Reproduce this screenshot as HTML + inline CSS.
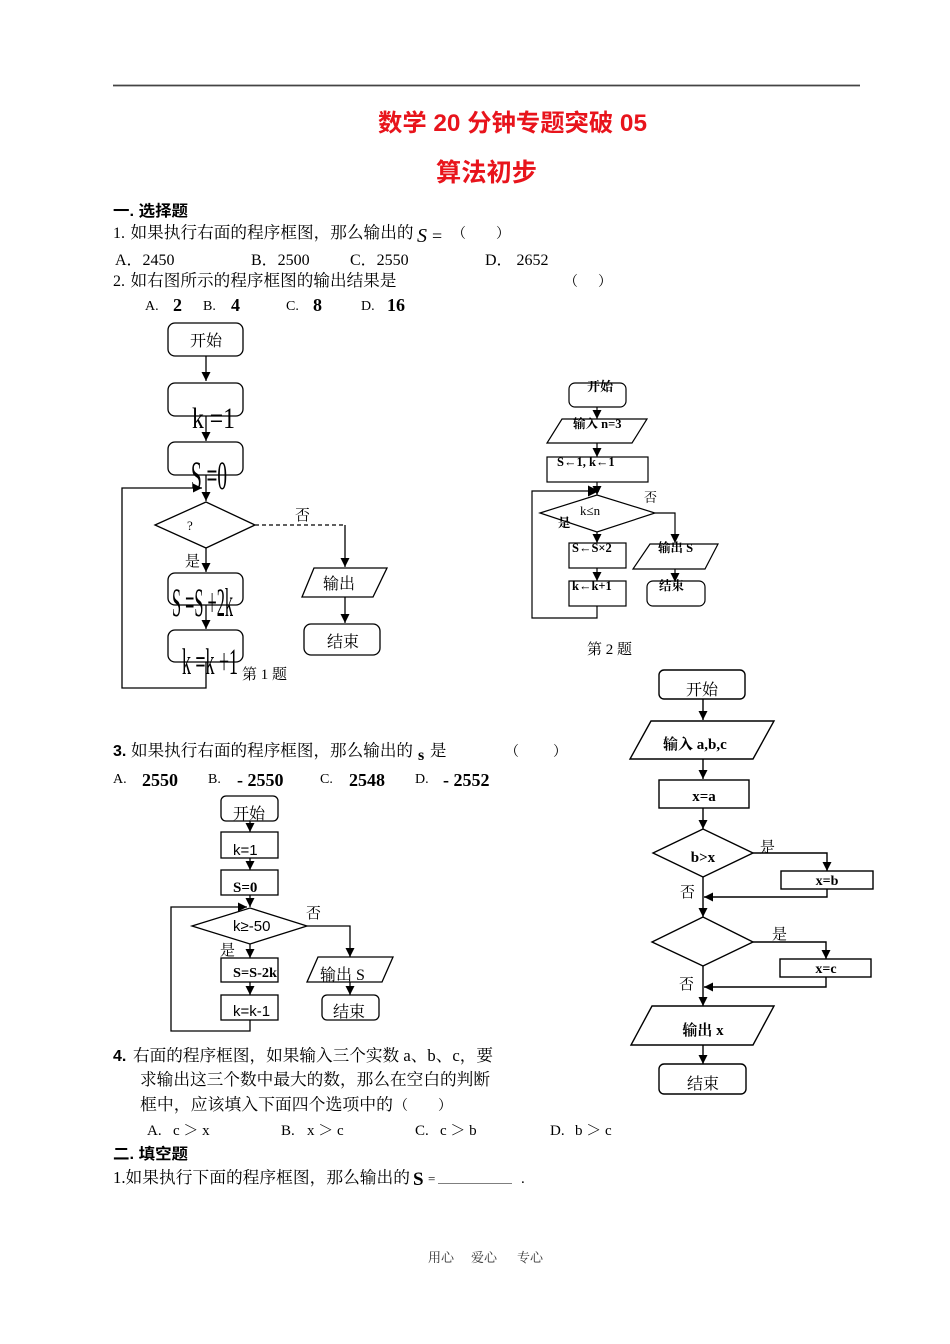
<!DOCTYPE html>
<html><head><meta charset="utf-8">
<style>
html,body{margin:0;padding:0;background:#fff;}
svg{display:block;}
.s{font-family:"Liberation Serif","Noto Serif CJK SC",serif;fill:#000;}
.h{font-family:"Liberation Sans","Noto Sans CJK SC",sans-serif;fill:#000;}
.b{font-weight:bold;}
</style></head>
<body>
<svg width="950" height="1344" viewBox="0 0 950 1344" xmlns="http://www.w3.org/2000/svg">
<defs>
<marker id="a" viewBox="0 0 10 10" refX="10" refY="5" markerWidth="9" markerHeight="9" markerUnits="userSpaceOnUse" orient="auto"><path d="M0,0 L10,5 L0,10 z" fill="#000"/></marker>
<marker id="a2" viewBox="0 0 10 10" refX="10" refY="5" markerWidth="11" markerHeight="11" markerUnits="userSpaceOnUse" orient="auto"><path d="M0,0 L10,5 L0,10 z" fill="#000"/></marker>
</defs>
<rect width="950" height="1344" fill="#fff"/>
<line x1="113" y1="85.5" x2="860" y2="85.5" stroke="#444" stroke-width="1.8"/>

<!-- Title -->
<text x="378" y="131" class="h b" font-size="24" fill="#e8141c" style="fill:#e8141c" textLength="269" lengthAdjust="spacingAndGlyphs">数学 20 分钟专题突破 05</text>
<text x="436" y="181" class="h b" font-size="25" style="fill:#e8141c" textLength="101" lengthAdjust="spacingAndGlyphs">算法初步</text>

<!-- Section 1 -->
<text x="113" y="216" class="h b" font-size="15.5" textLength="75" lengthAdjust="spacingAndGlyphs">一. 选择题</text>
<text x="113" y="238" class="s" font-size="16">1.</text>
<text x="130.5" y="238" class="s" font-size="16.5" textLength="283" lengthAdjust="spacingAndGlyphs">如果执行右面的程序框图，那么输出的</text>
<text x="417" y="242" class="s" font-size="20" font-style="italic">S</text>
<text x="432" y="242" class="s" font-size="18">=</text>
<text x="452" y="238" class="s" font-size="14">（</text>
<text x="496" y="238" class="s" font-size="14">）</text>

<text x="115" y="265" class="s" font-size="16">A．2450</text>
<text x="251" y="265" class="s" font-size="16">B．2500</text>
<text x="350" y="265" class="s" font-size="16">C．2550</text>
<text x="485" y="265" class="s" font-size="16">D．  2652</text>

<text x="113" y="286" class="s" font-size="16">2.</text>
<text x="130.5" y="286" class="s" font-size="16.5" textLength="266" lengthAdjust="spacingAndGlyphs">如右图所示的程序框图的输出结果是</text>
<text x="564" y="286" class="s" font-size="14">（</text>
<text x="598" y="286" class="s" font-size="14">）</text>

<text x="145" y="310" class="s" font-size="14">A.</text>
<text x="173" y="311" class="s b" font-size="18">2</text>
<text x="203" y="310" class="s" font-size="14">B.</text>
<text x="231" y="311" class="s b" font-size="18">4</text>
<text x="286" y="310" class="s" font-size="14">C.</text>
<text x="313" y="311" class="s b" font-size="18">8</text>
<text x="361" y="310" class="s" font-size="14">D.</text>
<text x="387" y="311" class="s b" font-size="18">16</text>

<!-- Flowchart 1 -->
<g fill="none" stroke="#000" stroke-width="1.3">
<rect x="168" y="323" width="75" height="33" rx="7"/>
<line x1="206" y1="356" x2="206" y2="381" marker-end="url(#a)"/>
<rect x="168" y="383" width="75" height="33" rx="7"/>
<line x1="206" y1="416" x2="206" y2="441" marker-end="url(#a)"/>
<rect x="168" y="442" width="75" height="33" rx="7"/>
<line x1="206" y1="475" x2="206" y2="501" marker-end="url(#a)"/>
<polyline points="206,662 206,688 122,688 122,488 202,488" marker-end="url(#a)"/>
<polygon points="155,525 206,502 255,525 206,548"/>
<line x1="255" y1="525" x2="345" y2="525" stroke-dasharray="4,3"/>
<line x1="345" y1="525" x2="345" y2="567" marker-end="url(#a)"/>
<line x1="206" y1="548" x2="206" y2="572" marker-end="url(#a)"/>
<rect x="168" y="573" width="75" height="32" rx="7"/>
<line x1="206" y1="605" x2="206" y2="629" marker-end="url(#a)"/>
<rect x="168" y="630" width="75" height="32" rx="7"/>
<polygon points="314,568 387,568 373,597 302,597"/>
<line x1="345" y1="597" x2="345" y2="623" marker-end="url(#a)"/>
<rect x="304" y="624" width="76" height="31" rx="7"/>
</g>
<text x="206" y="346" class="s" font-size="16" text-anchor="middle">开始</text>
<text x="192" y="428" class="s" font-size="30" textLength="43" lengthAdjust="spacingAndGlyphs">k =1</text>
<text x="191" y="489" class="s" font-size="40" textLength="36" lengthAdjust="spacingAndGlyphs">S =0</text>
<text x="187" y="530" class="s" font-size="13">?</text>
<text x="295" y="520" class="s" font-size="15">否</text>
<text x="185" y="566" class="s" font-size="15">是</text>
<text x="172" y="616" class="s" font-size="40" textLength="61" lengthAdjust="spacingAndGlyphs">S =S +2k</text>
<text x="182" y="674" class="s" font-size="37" textLength="56" lengthAdjust="spacingAndGlyphs">k =k +1</text>
<text x="339" y="589" class="s" font-size="16" text-anchor="middle">输出</text>
<text x="343" y="647" class="s" font-size="16" text-anchor="middle">结束</text>
<text x="242" y="679" class="s" font-size="15">第 1 题</text>

<!-- Flowchart 2 -->
<g fill="none" stroke="#000" stroke-width="1.2">
<rect x="569" y="383" width="57" height="24" rx="6"/>
<line x1="597" y1="407" x2="597" y2="419" marker-end="url(#a)"/>
<polygon points="562,419 647,419 632,443 547,443"/>
<line x1="597" y1="443" x2="597" y2="457" marker-end="url(#a)"/>
<rect x="547" y="457" width="101" height="25"/>
<line x1="597" y1="482" x2="597" y2="495" marker-end="url(#a)"/>
<polyline points="597,606 597,618 532,618 532,491 599,491" marker-end="url(#a2)"/>
<polygon points="540,513 597,495 655,513 597,532"/>
<polyline points="655,513 675,513 675,543" marker-end="url(#a)"/>
<line x1="597" y1="532" x2="597" y2="543" marker-end="url(#a)"/>
<rect x="569" y="543" width="57" height="25"/>
<line x1="597" y1="568" x2="597" y2="581" marker-end="url(#a)"/>
<rect x="569" y="581" width="57" height="25"/>
<polygon points="650,544 718,544 705,569 633,569"/>
<line x1="675" y1="569" x2="675" y2="582" marker-end="url(#a)"/>
<rect x="647" y="581" width="58" height="25" rx="6"/>
</g>
<text x="600" y="391" class="s b" font-size="13" text-anchor="middle">开始</text>
<text x="573" y="428" class="s b" font-size="12.5">输入 n=3</text>
<text x="557" y="466" class="s b" font-size="12.5">S←1, k←1</text>
<text x="580" y="515" class="s" font-size="13">k≤n</text>
<text x="558" y="527" class="s b" font-size="12.5">是</text>
<text x="644" y="502" class="s" font-size="13">否</text>
<text x="572" y="552" class="s b" font-size="12.5">S←S×2</text>
<text x="572" y="590" class="s b" font-size="12.5">k←k+1</text>
<text x="658" y="552" class="s b" font-size="12.5">输出 S</text>
<text x="659" y="590" class="s b" font-size="12.5">结束</text>
<text x="587" y="654" class="s" font-size="15">第 2 题</text>

<!-- Question 3 -->
<text x="113" y="756" class="h b" font-size="16">3.</text>
<text x="131" y="756" class="s" font-size="16.5" textLength="282" lengthAdjust="spacingAndGlyphs">如果执行右面的程序框图，那么输出的</text>
<text x="418" y="760" class="s b" font-size="16">s</text>
<text x="430" y="756" class="s" font-size="16.5">是</text>
<text x="505" y="756" class="s" font-size="14">（</text>
<text x="553" y="756" class="s" font-size="14">）</text>

<text x="113" y="783" class="s" font-size="14">A.</text>
<text x="142" y="786" class="s b" font-size="18">2550</text>
<text x="208" y="783" class="s" font-size="14">B.</text>
<text x="237" y="786" class="s b" font-size="18">- 2550</text>
<text x="320" y="783" class="s" font-size="14">C.</text>
<text x="349" y="786" class="s b" font-size="18">2548</text>
<text x="415" y="783" class="s" font-size="14">D.</text>
<text x="443" y="786" class="s b" font-size="18">- 2552</text>

<!-- Flowchart 3 -->
<g fill="none" stroke="#000" stroke-width="1.3">
<rect x="221" y="796" width="57" height="25" rx="5"/>
<line x1="250" y1="821" x2="250" y2="832" marker-end="url(#a)"/>
<rect x="221" y="832" width="57" height="26"/>
<line x1="250" y1="858" x2="250" y2="870" marker-end="url(#a)"/>
<rect x="221" y="870" width="57" height="25"/>
<line x1="250" y1="895" x2="250" y2="907" marker-end="url(#a)"/>
<polyline points="250,1020 250,1031 171,1031 171,907 247,907" marker-end="url(#a)"/>
<polygon points="192,926 250,908 307,926 250,944"/>
<polyline points="307,926 350,926 350,957" marker-end="url(#a)"/>
<line x1="250" y1="944" x2="250" y2="958" marker-end="url(#a)"/>
<rect x="221" y="958" width="57" height="24"/>
<line x1="250" y1="982" x2="250" y2="995" marker-end="url(#a)"/>
<rect x="221" y="995" width="57" height="25"/>
<polygon points="318,957 393,957 382,982 307,982"/>
<line x1="350" y1="982" x2="350" y2="995" marker-end="url(#a)"/>
<rect x="322" y="995" width="57" height="25" rx="5"/>
</g>
<text x="233" y="819" class="s" font-size="16">开始</text>
<text x="233" y="855" class="h" font-size="15">k=1</text>
<text x="233" y="892" class="s b" font-size="15">S=0</text>
<text x="233" y="931" class="h" font-size="15">k≥-50</text>
<text x="306" y="918" class="s" font-size="15">否</text>
<text x="220" y="955" class="s" font-size="15">是</text>
<text x="233" y="977" class="s b" font-size="14" textLength="44" lengthAdjust="spacingAndGlyphs">S=S-2k</text>
<text x="233" y="1016" class="h" font-size="15">k=k-1</text>
<text x="320" y="980" class="s" font-size="16">输出 S</text>
<text x="333" y="1017" class="s" font-size="16">结束</text>

<!-- Flowchart 4 -->
<g fill="none" stroke="#000" stroke-width="1.4">
<rect x="659" y="670" width="86" height="29" rx="5"/>
<line x1="703" y1="699" x2="703" y2="720" marker-end="url(#a)"/>
<polygon points="651,721 774,721 753,759 630,759"/>
<line x1="703" y1="759" x2="703" y2="779" marker-end="url(#a)"/>
<rect x="659" y="780" width="90" height="28"/>
<line x1="703" y1="808" x2="703" y2="829" marker-end="url(#a)"/>
<polygon points="653,853 703,829 753,853 703,877"/>
<polyline points="753,853 827,853 827,871" marker-end="url(#a)"/>
<rect x="781" y="871" width="92" height="18"/>
<polyline points="827,889 827,897 704,897" marker-end="url(#a)"/>
<line x1="703" y1="877" x2="703" y2="917" marker-end="url(#a)"/>
<polygon points="652,942 703,917 753,942 703,966"/>
<polyline points="753,942 826,942 826,959" marker-end="url(#a)"/>
<rect x="780" y="959" width="91" height="18"/>
<polyline points="826,977 826,987 704,987" marker-end="url(#a)"/>
<line x1="703" y1="966" x2="703" y2="1006" marker-end="url(#a)"/>
<polygon points="652,1006 774,1006 753,1045 631,1045"/>
<line x1="703" y1="1045" x2="703" y2="1064" marker-end="url(#a)"/>
<rect x="659" y="1064" width="87" height="30" rx="5"/>
</g>
<text x="702" y="695" class="s" font-size="16" text-anchor="middle">开始</text>
<text x="663" y="749" class="s b" font-size="15">输入 a,b,c</text>
<text x="704" y="801" class="s b" font-size="15" text-anchor="middle">x=a</text>
<text x="703" y="862" class="s b" font-size="15" text-anchor="middle">b&gt;x</text>
<text x="760" y="852" class="s" font-size="15">是</text>
<text x="827" y="885" class="s b" font-size="14" text-anchor="middle">x=b</text>
<text x="680" y="897" class="s" font-size="15">否</text>
<text x="772" y="939" class="s" font-size="15">是</text>
<text x="826" y="973" class="s b" font-size="14" text-anchor="middle">x=c</text>
<text x="679" y="989" class="s" font-size="15">否</text>
<text x="703" y="1035" class="s b" font-size="15" text-anchor="middle">输出 x</text>
<text x="703" y="1089" class="s" font-size="16" text-anchor="middle">结束</text>

<!-- Question 4 -->
<text x="113" y="1061" class="h b" font-size="16">4.</text>
<text x="133" y="1061" class="s" font-size="16.5" textLength="360" lengthAdjust="spacingAndGlyphs">右面的程序框图，如果输入三个实数 a、b、c，要</text>
<text x="140" y="1085" class="s" font-size="16.5" textLength="350" lengthAdjust="spacingAndGlyphs">求输出这三个数中最大的数，那么在空白的判断</text>
<text x="140" y="1110" class="s" font-size="16.5" textLength="253" lengthAdjust="spacingAndGlyphs">框中，应该填入下面四个选项中的</text>
<text x="394" y="1110" class="s" font-size="14">（</text>
<text x="438" y="1110" class="s" font-size="14">）</text>

<text x="147" y="1135" class="s" font-size="15">A.</text>
<text x="173" y="1135" class="s" font-size="15">c ＞ x</text>
<text x="281" y="1135" class="s" font-size="15">B.</text>
<text x="307" y="1135" class="s" font-size="15">x ＞ c</text>
<text x="415" y="1135" class="s" font-size="15">C.</text>
<text x="440" y="1135" class="s" font-size="15">c ＞ b</text>
<text x="550" y="1135" class="s" font-size="15">D.</text>
<text x="575" y="1135" class="s" font-size="15">b ＞ c</text>

<text x="113" y="1159" class="h b" font-size="15.5" textLength="75" lengthAdjust="spacingAndGlyphs">二. 填空题</text>
<text x="113" y="1183" class="s" font-size="16.5" textLength="297" lengthAdjust="spacingAndGlyphs">1.如果执行下面的程序框图，那么输出的</text>
<text x="413" y="1185" class="s b" font-size="19">S</text>
<text x="428" y="1183" class="s" font-size="13">=</text>
<line x1="438" y1="1183.5" x2="512" y2="1183.5" stroke="#555" stroke-width="0.8"/>
<text x="521" y="1183" class="s" font-size="15">.</text>

<!-- Footer -->
<text x="428" y="1262" class="s" font-size="13" style="fill:#333">用心</text>
<text x="471" y="1262" class="s" font-size="13" style="fill:#333">爱心</text>
<text x="517" y="1262" class="s" font-size="13" style="fill:#333">专心</text>
</svg>
</body></html>
